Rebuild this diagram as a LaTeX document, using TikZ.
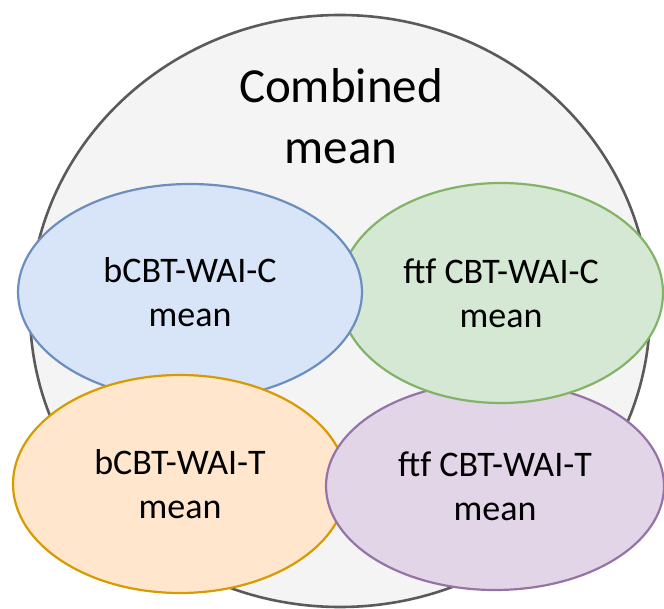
\documentclass[tikz,border=0pt]{standalone}
\usepackage{fontspec}
\setmainfont{Carlito}
\usetikzlibrary{shapes.geometric}

\definecolor{combfill}{HTML}{F4F4F4}
\definecolor{combdraw}{HTML}{5A5A5A}
\definecolor{bcfill}{HTML}{D8E5F8}
\definecolor{bcdraw}{HTML}{6C8EBF}
\definecolor{fcfill}{HTML}{D5E8D4}
\definecolor{fcdraw}{HTML}{82B366}
\definecolor{btfill}{HTML}{FFE6CC}
\definecolor{btdraw}{HTML}{D79B00}
\definecolor{ftfill}{HTML}{E1D5E7}
\definecolor{ftdraw}{HTML}{9673A6}

\begin{document}
\begin{tikzpicture}[x=1pt,y=-1pt,
	blob/.style={ellipse, draw, line width=2.2pt, inner sep=0pt, align=center,
		font=\fontsize{36}{44}\selectfont},
	]

	\useasboundingbox (0,0) rectangle (664,609);

	\node[blob, line width=2.6pt, fill=combfill, draw=combdraw,
		minimum width=620pt, minimum height=592pt] (comb) at (340,311) {};
	\node[align=center, font=\fontsize{49}{61}\selectfont] (combtxt) at (341,116) {Combined\\mean};

	\node[blob, fill=bcfill, draw=bcdraw, minimum width=344pt, minimum height=216pt]
		(bc) at (190,292) {bCBT-WAI-C\\mean};
	\node[blob, fill=btfill, draw=btdraw, minimum width=334pt, minimum height=218pt]
		(bt) at (180,484) {bCBT-WAI-T\\mean};
	\node[blob, fill=ftfill, draw=ftdraw, minimum width=338pt, minimum height=208pt]
		(ft) at (495,486) {ftf CBT-WAI-T\\mean};
	\node[blob, fill=fcfill, draw=fcdraw, minimum width=324pt, minimum height=220pt]
		(fc) at (501,293) {ftf CBT-WAI-C\\mean};

	% blue lies over green where they meet
	\begin{scope}
		\clip (fc.center) ellipse [x radius=165, y radius=113];
		\draw[line width=2.2pt, draw=bcdraw, fill=bcfill] (bc.center) ellipse [x radius=172, y radius=108];
	\end{scope}
\end{tikzpicture}
\end{document}
